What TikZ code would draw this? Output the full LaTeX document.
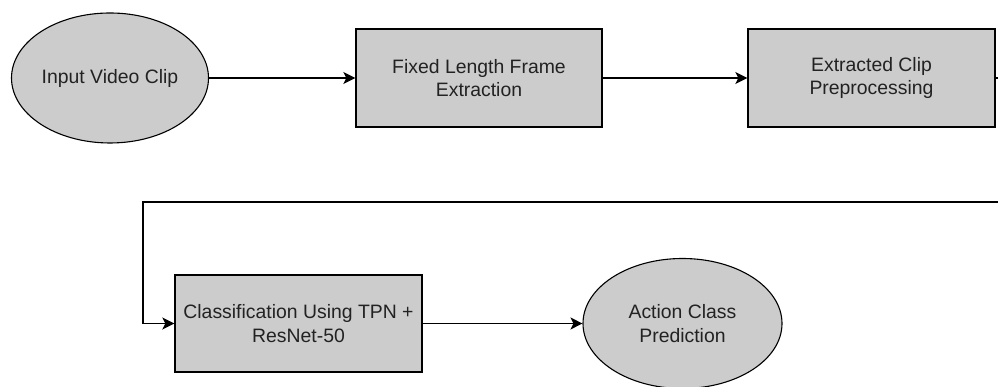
\documentclass[tikz,border=0pt]{standalone}
\usepackage{fontspec}
\setmainfont{Liberation Sans}
\usetikzlibrary{arrows.meta, positioning, shapes.geometric}

\definecolor{boxfill}{HTML}{CCCCCC}
\definecolor{txt}{HTML}{222222}

\begin{document}
\begin{tikzpicture}[
  x=1pt, y=1pt,
  box/.style={draw, fill=boxfill, line width=1.4pt, align=center, minimum width=246pt, minimum height=98pt, inner sep=0pt, text=txt, font=\fontsize{19.4}{23.3}\selectfont},
  term/.style={draw, ellipse, fill=boxfill, line width=1.1pt, align=center, minimum width=197pt, minimum height=130pt, inner sep=0pt, text=txt, font=\fontsize{19.4}{23.3}\selectfont},
  arrow/.style={-{Stealth[length=12pt, width=12pt, inset=3pt]}, line width=1.3pt},
  link/.style={line width=1.3pt}
]
\useasboundingbox (0,0) rectangle (998,387);
\node[term] (clip) at (110,309) {Input Video Clip};
\node[box] (extract) at (479,309) {Fixed Length Frame\\Extraction};
\node[box, minimum width=247pt] (prep) at (871.5,309) {Extracted Clip\\Preprocessing};
\node[box, minimum width=247pt, minimum height=97pt] (classify) at (298.5,63.5) {Classification Using TPN +\\ResNet-50};
\node[term, minimum width=199pt] (predict) at (682.5,63.5) {Action Class\\Prediction};
% loose ends at the right border
\coordinate (cutA) at (998,309);
\coordinate (cutB) at (998,185);
\coordinate (turn) at (143,185);
\draw[arrow] (clip) -- (extract);
\draw[arrow] (extract) -- (prep);
\draw[link] (prep.east) -- (cutA);
\draw[arrow] (cutB) -- (turn) |- (classify.west);
\draw[arrow] (classify) -- (predict);
\end{tikzpicture}
\end{document}
